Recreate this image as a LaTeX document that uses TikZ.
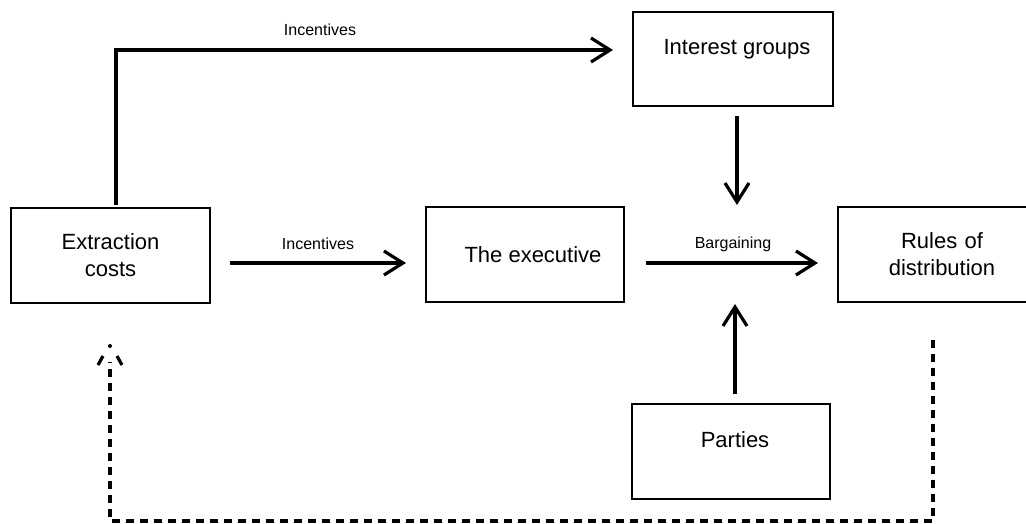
\documentclass[tikz,border=0pt]{standalone}
\usepackage{fontspec}
\setmainfont{Liberation Sans}
\usetikzlibrary{arrows.meta,calc}
\begin{document}
\begin{tikzpicture}[x=1pt,y=-1pt,
  box/.style={draw=black,line width=2.1pt,minimum width=#1,minimum height=95pt,inner sep=0pt,align=center,font=\fontsize{22}{27}\selectfont},
  box/.default=199pt,
  topbox/.style={box=#1,text height=16pt,text depth=24.6pt},
  arr/.style={line width=3.2pt,-{Straight Barb[length=19pt,width=24pt,line width=3.2pt]}},
  lab/.style={font=\fontsize{16}{18}\selectfont,inner sep=0pt},
  dsh/.style={line width=3.2pt,dash pattern=on 8pt off 6pt}]
\useasboundingbox (0,0) rectangle (1026,523);
\clip (0,0) rectangle (1026,523);
\fill[white] (0,0) rectangle (1026,523);
% boxes
\node[box] (ext) at (110.5,255.5) {Extraction\\costs};
\node[box=198pt] (exe) at (525,254.5) {\hspace*{16pt}The executive};
\node[box=240pt,text width=208pt] (rul) at (958,254.5) {\hspace*{-32pt}Rules of\\\hspace*{-32pt}distribution};
\node[topbox=200pt,minimum height=94pt] (int) at (733,59) {\hspace*{8pt}Interest groups};
\node[topbox=198pt] (par) at (731,451.5) {\hspace*{8pt}Parties};
% helper coordinates
\coordinate (tend) at (613,50);
\coordinate (meetTop) at (737,205);
\coordinate (meetBot) at (735,304);
\coordinate (dstart) at (933,340);
\coordinate (dtip) at (110,346);
% connectors
\draw[arr] ($(ext.north)+(5.5,-2)$) |- (tend);
\node[lab] (l1) at (320,30) {Incentives};
\draw[arr] ($(ext.east)+(19,7.5)$) -- ($(exe.west)+(-19,8.5)$);
\node[lab] (l2) at (318,244) {Incentives};
\draw[arr] ($(exe.east)+(21,8.5)$) -- ($(rul.west)+(-19,8.5)$);
\node[lab] (l3) at (733,244) {Bargaining};
\draw[arr] ($(int.south)+(4,9)$) -- (meetTop);
\draw[arr] ($(par.north)+(4,-9)$) -- (meetBot);
% dashed feedback
\draw[dsh] (dstart) -- (933,521) -- (110,521) -- ($(dtip)+(0,16)$);
\draw[line width=3.2pt] (98,365) -- (103,356) (122,365) -- (117,356);
\fill (dtip) circle (2pt);
\end{tikzpicture}
\end{document}
